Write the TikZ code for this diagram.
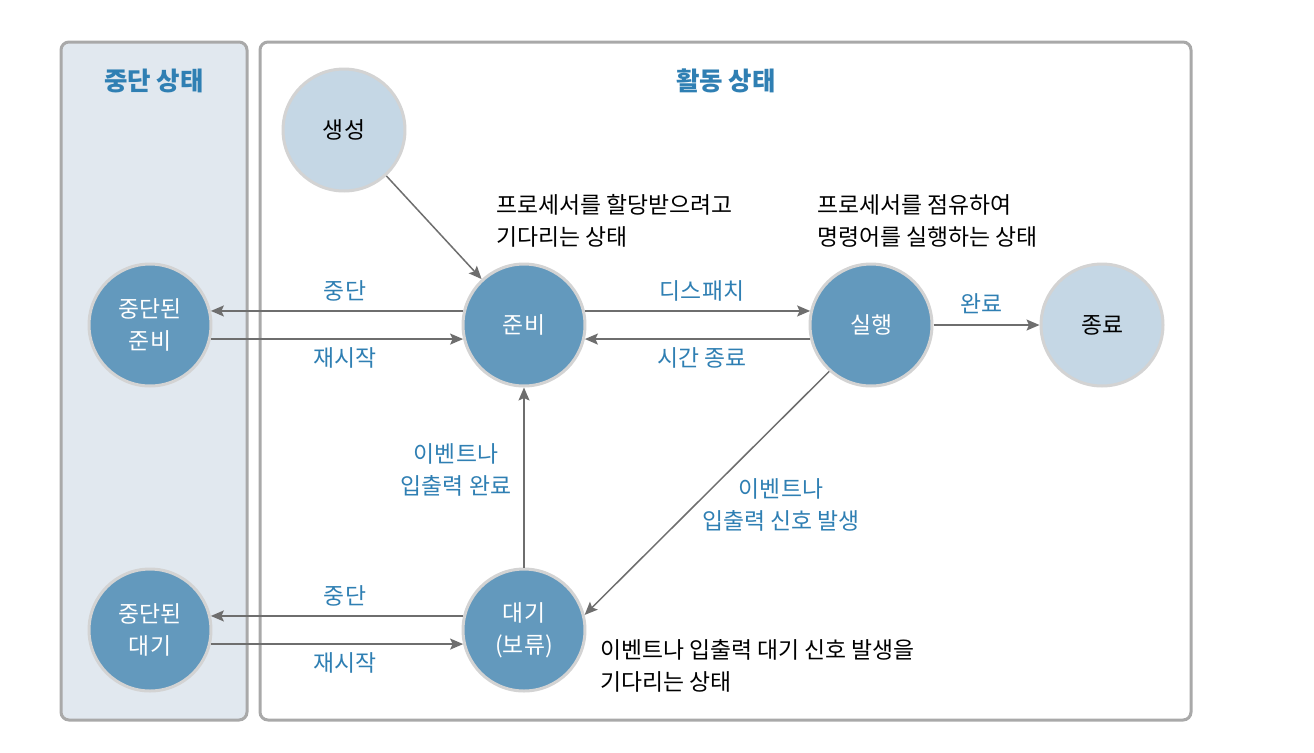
\documentclass[tikz,border=0pt]{standalone}
\usepackage{fontspec}
\setmainfont{Noto Sans CJK KR}
\usetikzlibrary{arrows.meta}
\definecolor{stblue}{HTML}{6399BD}
\definecolor{stlight}{HTML}{C5D7E5}
\definecolor{stpanel}{HTML}{E1E8EF}
\definecolor{stframe}{HTML}{A9A9A9}
\definecolor{stlabel}{HTML}{2F7FB3}
\definecolor{starrow}{HTML}{6E6E6E}
\definecolor{string}{HTML}{D3D3D3}
\begin{document}
\begin{tikzpicture}[x=0.02cm,y=-0.02cm]
		\tikzstyle{every node}+=[font=\fontsize{13}{18.2}\selectfont]
		\tikzstyle{state}=[circle, minimum size=2.44cm, inner sep=0pt, draw=string, line width=0.06cm, fill=stblue, text=white, align=center]
		\tikzstyle{endstate}=[state, fill=stlight, text=black]
		\tikzstyle{edge}=[draw=starrow, line width=0.03cm, -{Stealth[length=0.26cm,width=0.22cm,inset=0.05cm]}]
		\tikzstyle{lbl}=[text=stlabel, align=center]
		\tikzstyle{note}=[align=left, anchor=west]
		\tikzstyle{title}=[text=stlabel, font=\fontsize{14.5}{18}\selectfont\bfseries]
		\useasboundingbox (0,0) rectangle (1314,752);
		\draw [stframe, line width=0.06cm, rounded corners=0.16cm, fill=stpanel] (61,42) rectangle (247,720);
		\draw [stframe, line width=0.06cm, rounded corners=0.16cm, fill=white] (260,42) rectangle (1191,720);
		\node [title] (t1) at (154,81) {중단 상태};
		\node [title] (t2) at (726,81) {활동 상태};
		\node [endstate] (saeng) at (344,130) {생성};
		\node [state] (junbi) at (524,325) {준비};
		\node [state] (silhaeng) at (871,325) {실행};
		\node [endstate] (jongryo) at (1102,325) {종료};
		\node [state] (jjunbi) at (150,325) {중단된\\준비};
		\node [state] (daegi) at (524,630) {대기\\(보류)};
		\node [state] (jdaegi) at (150,630) {중단된\\대기};
		\draw [edge] (saeng) -- (junbi);
		\draw [edge] (junbi.167) -- (jjunbi.13);
		\draw [edge] (jjunbi.-13) -- (junbi.193);
		\draw [edge] (junbi.13) -- (silhaeng.167);
		\draw [edge] (silhaeng.193) -- (junbi.-13);
		\draw [edge] (silhaeng) -- (jongryo);
		\draw [edge] (silhaeng.-132) -- (daegi.14);
		\draw [edge] (daegi) -- (junbi);
		\draw [edge] (daegi.167) -- (jdaegi.13);
		\draw [edge] (jdaegi.-13) -- (daegi.193);
		\node [lbl] (l1) at (345,291) {중단};
		\node [lbl] (l2) at (345,358) {재시작};
		\node [lbl] (l3) at (702,291) {디스패치};
		\node [lbl] (l4) at (702,358) {시간 종료};
		\node [lbl] (l5) at (981,304) {완료};
		\node [lbl] (l6) at (781,505) {이벤트나\\입출력 신호 발생};
		\node [lbl] (l7) at (456,470) {이벤트나\\입출력 완료};
		\node [lbl] (l8) at (345,596) {중단};
		\node [lbl] (l9) at (345,663) {재시작};
		\node [note] (n1) at (490,221) {프로세서를 할당받으려고\\기다리는 상태};
		\node [note] (n2) at (811,221) {프로세서를 점유하여\\명령어를 실행하는 상태};
		\node [note] (n3) at (594,666) {이벤트나 입출력 대기 신호 발생을\\기다리는 상태};
	\end{tikzpicture}
\end{document}
